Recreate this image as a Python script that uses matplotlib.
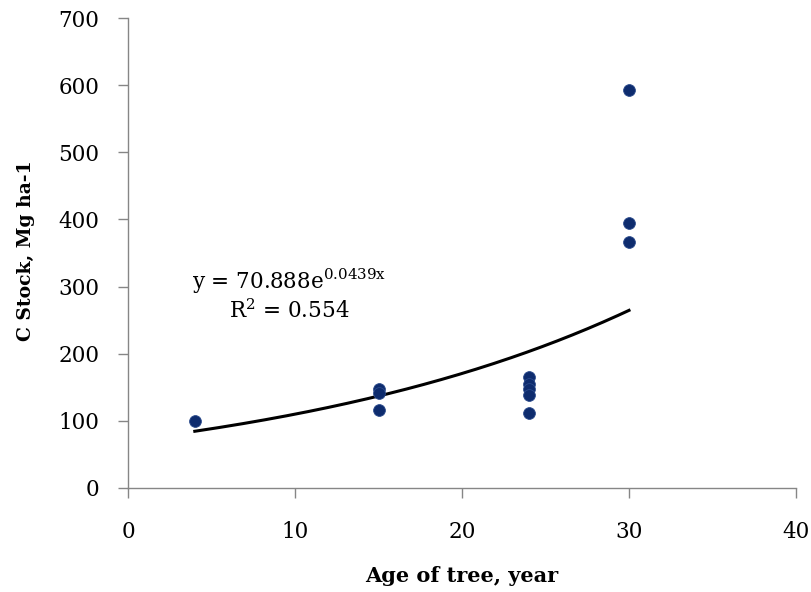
import numpy as np
import matplotlib
matplotlib.use("Agg")
import matplotlib.pyplot as plt

plt.rcParams["mathtext.fontset"] = "dejavuserif"

# Data
age = [4, 15, 15, 15, 24, 24, 24, 24, 24, 30, 30, 30]
c_stock = [100, 147, 141, 116, 166, 155, 147, 138, 112, 593, 395, 367]

# Exponential trendline parameters (as printed on chart)
fit_a = 70.888
fit_b = 0.0439
fit_r2 = 0.554

xticks = [0, 10, 20, 30, 40]
yticks = [0, 100, 200, 300, 400, 500, 600, 700]

W, H = 811, 592
fig = plt.figure(figsize=(W / 100, H / 100), dpi=100)
ax = fig.add_axes([128 / W, 1 - 488 / H, (796 - 128) / W, (488 - 18) / H])

serif = "DejaVu Serif"
gray = "#868686"

xs = np.linspace(min(age), max(age), 200)
ax.plot(xs, fit_a * np.exp(fit_b * xs), color="black", lw=2.2, zorder=2)
ax.scatter(age, c_stock, s=72, color="#0E2C6E", edgecolors="#2A4A8C", linewidths=0.6, zorder=3)

ax.set_xlim(0, 40)
ax.set_ylim(0, 700)
ax.set_xticks(xticks)
ax.set_yticks(yticks)
ax.set_xticklabels([str(t) for t in xticks], family=serif, fontsize=15.5)
ax.set_yticklabels([str(t) for t in yticks], family=serif, fontsize=15.5)

for s in ["top", "right"]:
    ax.spines[s].set_visible(False)
for s in ["left", "bottom"]:
    ax.spines[s].set_color(gray)
    ax.spines[s].set_linewidth(1.0)
ax.tick_params(axis="both", direction="out", length=7, width=1.0, color=gray, labelcolor="black")
ax.tick_params(axis="y", pad=13.5)
ax.tick_params(axis="x", pad=16.5)
ax.patch.set_visible(False)

ax.set_xlabel("Age of tree, year", family=serif, fontweight="bold", fontsize=15)
ax.set_ylabel("C Stock, Mg ha-1", family=serif, fontweight="bold", fontsize=13.5)
ax.xaxis.set_label_coords(0.5, (488 - 566) / 470)
ax.yaxis.set_label_coords((35 - 128) / 668, (488 - 251) / 470)

eq_x = 289 / W
fig.text(eq_x, 1 - 289 / H, r"y = 70.888e$^{0.0439\mathrm{x}}$", family=serif, fontsize=15.5,
         ha="center", va="baseline")
fig.text(eq_x, 1 - 318 / H, r"R$^{2}$ = %.3f" % fit_r2, family=serif, fontsize=15.5,
         ha="center", va="baseline")

fig.savefig("out.png", dpi=100)
